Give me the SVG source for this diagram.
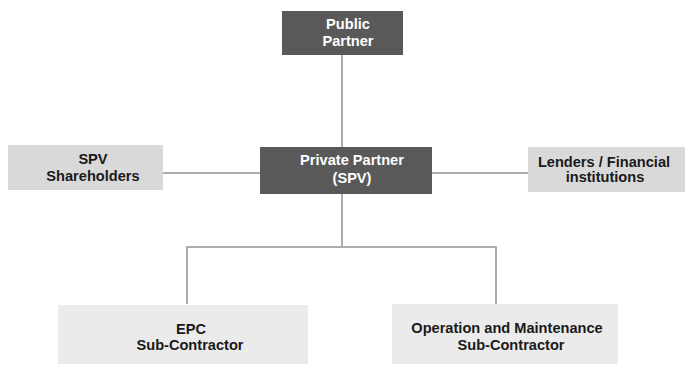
<svg xmlns="http://www.w3.org/2000/svg" width="689" height="365" viewBox="0 0 689 365">
<style>
.dark{fill:#595959}
.mid{fill:#d9d9d9}
.light{fill:#ebebeb}
text{font-family:"Liberation Sans",Arial,sans-serif;font-weight:bold;font-size:14.6px;text-anchor:middle}
.w{fill:#ffffff}
.b{fill:#1a1a1a}
.c{stroke:#acacac;stroke-width:2;fill:none}
</style>
<rect width="689" height="365" fill="#ffffff"/>
<g id="connectors">
<line class="c" x1="342" y1="55" x2="342" y2="147"/>
<line class="c" x1="163" y1="173" x2="260" y2="173"/>
<line class="c" x1="432" y1="173" x2="528" y2="173"/>
<polyline class="c" points="342,194 342,247"/>
<polyline class="c" points="187,304 187,247 496,247 496,304"/>
</g>
<g id="public-partner">
<rect class="dark" x="282" y="11" width="121" height="44"/>
<text class="w" x="348" y="29">Public</text>
<text class="w" x="348" y="46">Partner</text>
</g>
<g id="private-partner">
<rect class="dark" x="260" y="147" width="172" height="47"/>
<text class="w" x="352" y="165">Private Partner</text>
<text class="w" x="352" y="183">(SPV)</text>
</g>
<g id="spv-shareholders">
<rect class="mid" x="8" y="145" width="155" height="45"/>
<text class="b" x="93" y="164">SPV</text>
<text class="b" x="93" y="181">Shareholders</text>
</g>
<g id="lenders">
<rect class="mid" x="528" y="147" width="157" height="45"/>
<text class="b" x="604" y="167">Lenders / Financial</text>
<text class="b" x="605" y="182">institutions</text>
</g>
<g id="epc">
<rect class="light" x="58" y="305" width="250" height="59"/>
<text class="b" x="191" y="334">EPC</text>
<text class="b" x="190" y="350">Sub-Contractor</text>
</g>
<g id="om">
<rect class="light" x="392" y="304" width="226" height="60"/>
<text class="b" x="507" y="333">Operation and Maintenance</text>
<text class="b" x="511" y="350">Sub-Contractor</text>
</g>
</svg>
